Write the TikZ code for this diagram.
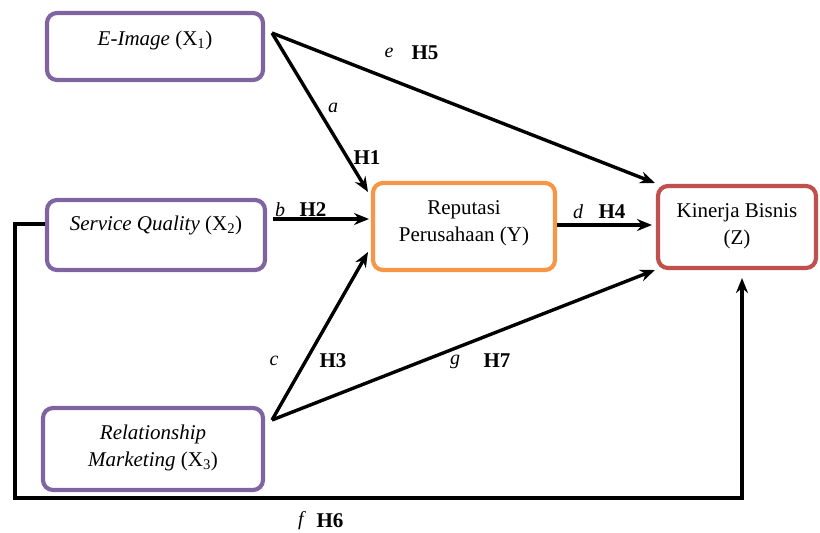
\documentclass[tikz,border=0pt]{standalone}
\usepackage{fontspec}
\setmainfont{Liberation Serif}
\usetikzlibrary{arrows.meta}
\definecolor{purp}{HTML}{8064A2}
\definecolor{oran}{HTML}{F79646}
\definecolor{redb}{HTML}{C0504D}
\begin{document}
\begin{tikzpicture}[x=1pt,y=-1pt,
  box/.style={draw, line width=4.2pt, rounded corners=10pt, inner sep=0pt},
  txt/.style={font=\fontsize{21}{27}\selectfont, align=center, inner sep=0pt},
  lab/.style={font=\fontsize{20}{22}\selectfont\itshape, inner sep=0pt},
  hyp/.style={font=\fontsize{21}{22}\selectfont\bfseries, inner sep=0pt},
  conn/.style={line width=3.4pt, -{Stealth[length=15pt,width=12pt]}},
  plain/.style={line width=3.4pt}]
\useasboundingbox (0,0) rectangle (820,533);
% boxes
\node[box, draw=purp, minimum width=216, minimum height=67] (X1) at (155,46.5) {};
\node[box, draw=purp, minimum width=218, minimum height=70] (X2) at (156,235) {};
\node[box, draw=purp, minimum width=220, minimum height=82] (X3) at (153,449) {};
\node[box, draw=oran, minimum width=182, minimum height=87] (Y) at (464,226.5) {};
\node[box, draw=redb, minimum width=158, minimum height=82] (Z) at (737,227) {};
% texts
\node[txt] (tX1) at (155,40) {\textit{E-Image} (X\textsubscript{1})};
\node[txt] (tX2) at (156,225) {\textit{Service Quality} (X\textsubscript{2})};
\node[txt] (tX3) at (153,448) {\textit{Relationship}\\\textit{Marketing} (X\textsubscript{3})};
\node[txt] (tY) at (464,223) {Reputasi\\Perusahaan (Y)};
\node[txt] (tZ) at (737,226) {Kinerja Bisnis\\(Z)};
% connector end points
\coordinate (x1o) at (272,33);
\coordinate (x2o) at (273,219);
\coordinate (x3o) at (272,420);
\coordinate (yin1) at (368,192);
\coordinate (yin2) at (369,219);
\coordinate (yin3) at (368,252);
\coordinate (yout) at (557,225);
\coordinate (zin4) at (652,225);
\coordinate (zin5) at (655,183);
\coordinate (zin7) at (655,270);
\coordinate (zin6) at (742,278);
\coordinate (x2l) at (45,224);
\coordinate (c1) at (15,224);
\coordinate (c2) at (15,498);
\coordinate (c3) at (742,498);
% connectors
\draw[conn] (x1o) -- (yin1);
\draw[conn] (x1o) -- (zin5);
\draw[conn] (x2o) -- (yin2);
\draw[conn] (x3o) -- (yin3);
\draw[conn] (x3o) -- (zin7);
\draw[conn] (yout) -- (zin4);
\draw[conn] (x2l) -- (c1) -- (c2) -- (c3) -- (zin6);
% labels
\node[lab] (la) at (333,108) {a};
\node[hyp] (h1) at (367,158) {H1};
\node[lab] (le) at (389,53) {e};
\node[hyp] (h5) at (425,53) {H5};
\node[lab] (lb) at (280,210) {b};
\node[hyp] (h2) at (313,210) {H2};
\node[lab] (ld) at (578,212) {d};
\node[hyp] (h4) at (612,212) {H4};
\node[lab] (lc) at (274,361) {c};
\node[hyp] (h3) at (333,361) {H3};
\node[lab] (lg) at (455,362) {g};
\node[hyp] (h7) at (497,361) {H7};
\node[lab] (lf) at (301,521) {f};
\node[hyp] (h6) at (330,521) {H6};
\end{tikzpicture}
\end{document}
